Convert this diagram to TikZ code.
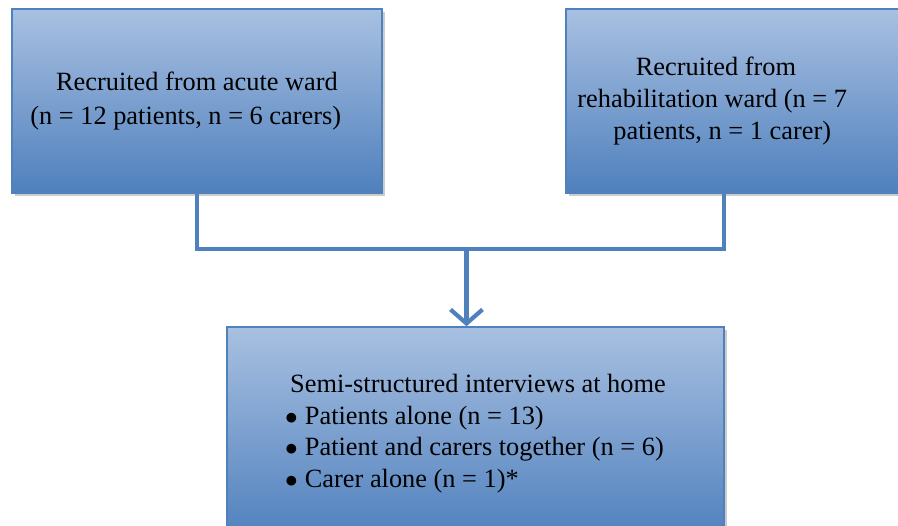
\documentclass[tikz,border=0pt]{standalone}
\usepackage{fontspec}
\setmainfont{Liberation Serif}
\usepackage{xcolor}
\usepackage{tikz}
\usetikzlibrary{arrows.meta,positioning,calc,shadows}
\definecolor{flowTop}{HTML}{A8C0E1}
\definecolor{flowBottom}{HTML}{4F80BD}
\definecolor{flowLine}{HTML}{4F81BD}
\definecolor{flowShadow}{HTML}{9A9A9A}

\begin{document}
\begin{tikzpicture}[
  font=\fontsize{15}{18}\selectfont,
  wardbox/.style={draw=flowLine,line width=0.8pt,top color=flowTop,bottom color=flowBottom,
                  align=center,inner sep=4pt,
                  drop shadow={shadow xshift=1.5pt,shadow yshift=-1.5pt,fill=flowShadow,opacity=0.5}},
  link/.style={flowLine,line width=2.4pt},
  arr/.style={-{Straight Barb[length=2.8mm,width=6.4mm]},flowLine,line width=2.4pt}
]
% Frame
\useasboundingbox (0,0) rectangle (17.96,10.5);
\clip (0,0) rectangle (17.96,10.5);

% Recruitment boxes
\node[wardbox,minimum width=7.4cm,minimum height=3.68cm] (acute) at (3.94,8.48)
  {Recruited from acute ward\\[1pt]\hspace*{-0.45cm}(n = 12 patients, n = 6 carers)};
\node[wardbox,minimum width=6.8cm,minimum height=3.68cm] (rehab) at (14.72,8.48)
  {\hspace*{-0.8cm}Recruited from\\[0pt]\hspace*{-0.95cm}rehabilitation ward (n = 7\\[0pt]\hspace*{-0.55cm}patients, n = 1 carer)};

% Interview box
\node[wardbox,minimum width=9.94cm,minimum height=4.26cm] (home) at (9.51,1.83)
  {\begin{tabular}{@{}l@{}}
     \hspace*{0.1cm}Semi-structured interviews at home\\[0pt]
     $\bullet$\hspace{0.14cm}Patients alone (n = 13)\\[0pt]
     $\bullet$\hspace{0.14cm}Patient and carers together (n = 6)\\[0pt]
     $\bullet$\hspace{0.14cm}Carer alone (n = 1)*
   \end{tabular}};

% Connectors
\coordinate (rehabfoot) at ([xshift=-0.24cm]rehab.south);
\coordinate (merge) at (9.33,5.52);
\draw[link] (acute.south) |- (merge) -| (rehabfoot);
\draw[arr] (merge) -- (merge |- home.north);
\end{tikzpicture}
\end{document}
